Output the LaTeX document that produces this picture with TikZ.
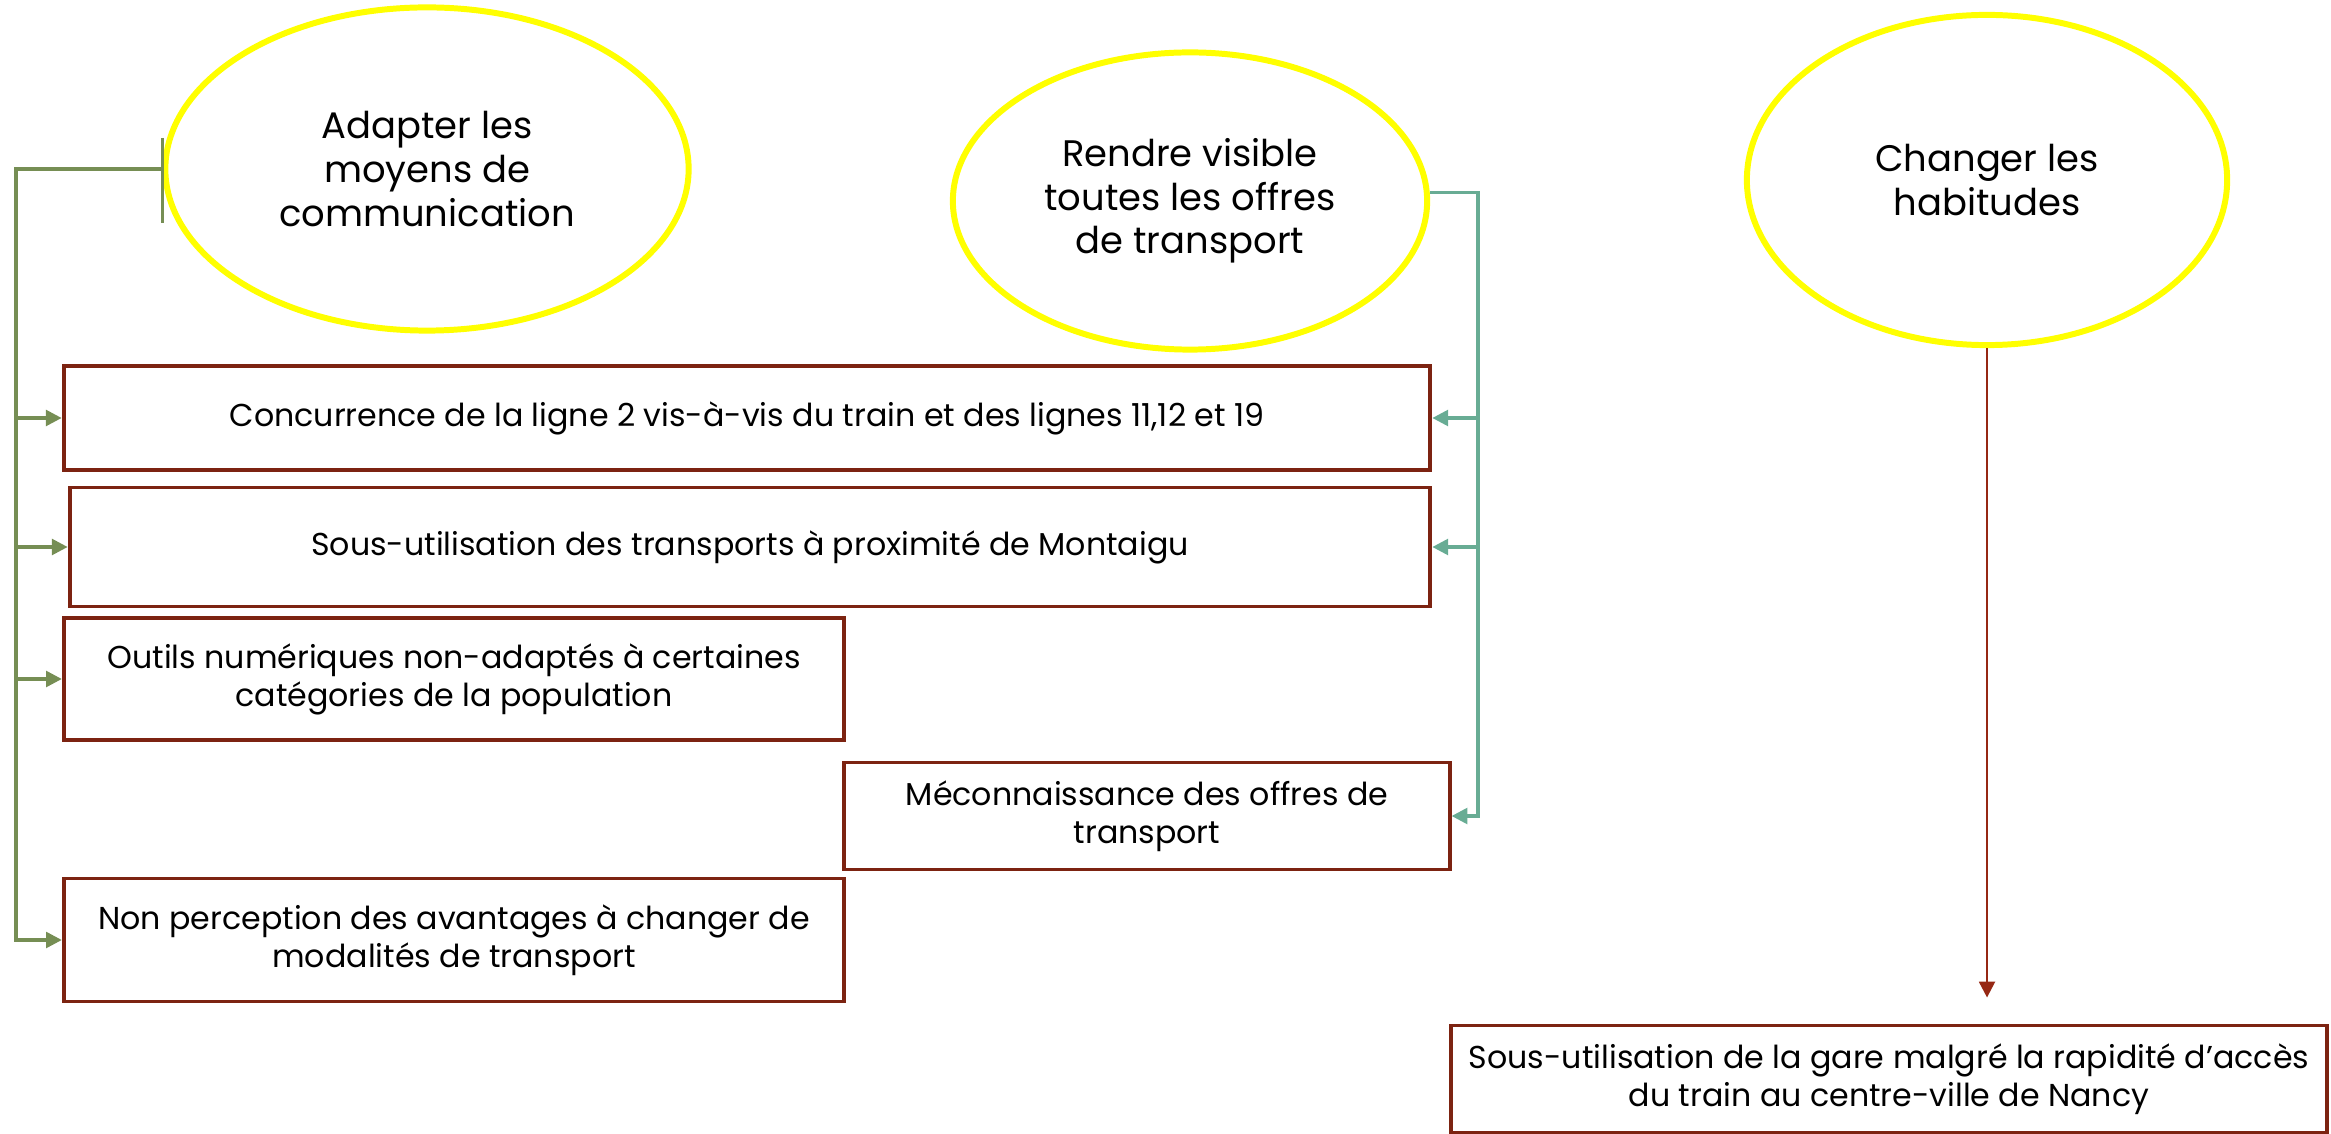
\documentclass[tikz,border=0pt]{standalone}
\usepackage{fontspec}
\setmainfont{Poppins}
\usetikzlibrary{arrows.meta, positioning, shapes.geometric}

\definecolor{goalyellow}{RGB}{255,255,0}
\definecolor{issuered}{RGB}{124,35,17}
\definecolor{linkgreen}{RGB}{118,142,84}
\definecolor{linkteal}{RGB}{104,172,148}
\definecolor{linkred}{RGB}{150,40,20}

\begin{document}
\begin{tikzpicture}[
  x=0.01cm, y=-0.01cm,
  every node/.style={font=\fontsize{9}{10.8}\selectfont},
  goal/.style={ellipse, draw=goalyellow, line width=1.7pt, inner sep=0pt,
               align=center, font=\fontsize{10.5}{12.4}\selectfont},
  issue/.style={rectangle, draw=issuered, line width=1.1pt, inner sep=0pt,
                align=center},
  arrG/.style={-{Triangle[length=4.5pt, width=4.5pt]}, line width=0.9pt, linkgreen},
  arrT/.style={-{Triangle[length=4.5pt, width=4.5pt]}, line width=0.9pt, linkteal},
  arrR/.style={-{Triangle[length=4.5pt, width=4.5pt]}, line width=0.7pt, linkred}
]
  \useasboundingbox (0,0) rectangle (2331,1134);

  % Goals
  \node[goal, minimum width=5.23cm, minimum height=3.23cm] (adapt)   at (427, 169)
    {Adapter les\\moyens de\\communication};
  \node[goal, minimum width=4.74cm, minimum height=2.97cm] (visible) at (1190, 201)
    {Rendre visible\\toutes les offres\\de transport};
  \node[goal, minimum width=4.80cm, minimum height=3.30cm] (habits)  at (1987, 180)
    {Changer les\\habitudes};

  % Issues
  \node[issue, minimum width=13.66cm, minimum height=1.04cm] (conc)  at (747, 418)
    {Concurrence de la ligne 2 vis-à-vis du train et des lignes 11,12 et 19};
  \node[issue, minimum width=13.60cm, minimum height=1.19cm] (sous)  at (750, 547)
    {Sous-utilisation des transports à proximité de Montaigu};
  \node[issue, minimum width=7.80cm,  minimum height=1.22cm] (outil) at (454, 679)
    {Outils numériques non-adaptés à certaines\\catégories de la population};
  \node[issue, minimum width=6.05cm,  minimum height=1.07cm] (meco)  at (1147, 816)
    {Méconnaissance des offres de\\transport};
  \node[issue, minimum width=7.80cm,  minimum height=1.23cm] (nonp)  at (454, 940)
    {Non perception des avantages à changer de\\modalités de transport};
  \node[issue, minimum width=8.76cm,  minimum height=1.07cm] (gare)  at (1889, 1079)
    {Sous-utilisation de la gare malgré la rapidité d’accès\\du train au centre-ville de Nancy};

  % Buses
  \coordinate (gbus) at (16, 0);
  \coordinate (tbus) at (1478, 0);

  % Green links
  \draw[linkgreen, line width=0.7pt]
    ([yshift=0.31cm]adapt.west) -- ([yshift=-0.54cm]adapt.west);
  \foreach \t in {conc, sous, outil, nonp}
    \draw[arrG] (adapt.west) -- (adapt.west -| gbus) |- (\t.west);

  % Teal links
  \foreach \t in {conc, sous, meco}
    \draw[arrT] (visible.2) -- (visible.2 -| tbus) |- (\t.east);

  % Red link
  \draw[arrR, shorten >=0.26cm] (habits.south) -- (habits.south |- gare.north);
\end{tikzpicture}
\end{document}
